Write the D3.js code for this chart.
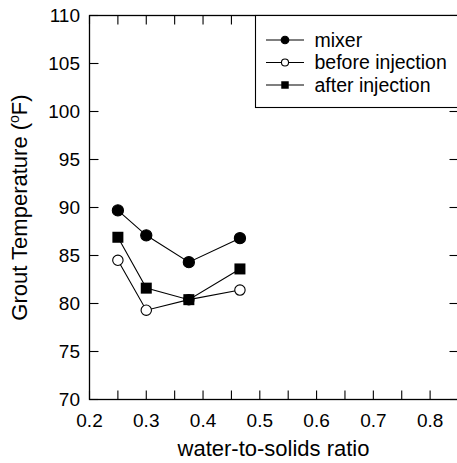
<!DOCTYPE html>
<html><head><meta charset="utf-8">
<script src="https://cdn.jsdelivr.net/npm/d3@7"></script>
<style>body{margin:0;background:#fff;} text{font-family:"Liberation Sans",Arial,sans-serif;fill:#000;}</style>
</head><body>
<svg id="c" width="457" height="463"></svg>
<script>
const ratios = [0.25, 0.30, 0.375, 0.465];
const mixer = [89.7, 87.1, 84.3, 86.8];
const beforeInjection = [84.5, 79.3, 80.4, 81.4];
const afterInjection = [86.9, 81.6, 80.4, 83.6];
const seriesNames = ["mixer", "before injection", "after injection"];
const xTicks = [0.2,0.25,0.3,0.35,0.4,0.45,0.5,0.55,0.6,0.65,0.7,0.75,0.8,0.85];
const xLabels = [0.2,0.3,0.4,0.5,0.6,0.7,0.8];
const yTicks = [70,75,80,85,90,95,100,105,110];

const svg = d3.select("#c");
const L = 89.5, R = 458.5, T = 15.5, B = 399.5;
const x = d3.scaleLinear().domain([0.2, 0.85]).range([L, R]);
const y = d3.scaleLinear().domain([70, 110]).range([B, T]);

// frame
svg.append("rect").attr("x", L).attr("y", T).attr("width", R - L).attr("height", B - T)
  .attr("fill", "none").attr("stroke", "#000").attr("stroke-width", 1.3);

// axes (ticks inward)
const tl = 9;
const ax = svg.append("g").attr("stroke", "#000").attr("stroke-width", 1.1);
xTicks.forEach(v => {
  ax.append("line").attr("x1", x(v)).attr("x2", x(v)).attr("y1", B).attr("y2", B - tl);
  ax.append("line").attr("x1", x(v)).attr("x2", x(v)).attr("y1", T).attr("y2", T + tl);
});
yTicks.forEach(v => {
  ax.append("line").attr("x1", L).attr("x2", L + tl).attr("y1", y(v)).attr("y2", y(v));
  ax.append("line").attr("x1", R).attr("x2", R - tl).attr("y1", y(v)).attr("y2", y(v));
});
svg.append("g").selectAll("text").data(xLabels).join("text")
  .attr("x", d => x(d)).attr("y", B + 27.5).attr("text-anchor", "middle")
  .attr("font-size", 19).text(d => d3.format(".1f")(d));
svg.append("g").selectAll("text").data(yTicks).join("text")
  .attr("x", L - 9.5).attr("y", d => y(d) + 6.7).attr("text-anchor", "end")
  .attr("font-size", 19).text(d => d);

svg.append("text").attr("x", 273.5).attr("y", 456).attr("text-anchor", "middle")
  .attr("font-size", 22).text("water-to-solids ratio");
const yl = svg.append("text").attr("transform", `translate(27,207.5) rotate(-90)`)
  .attr("text-anchor", "middle").attr("font-size", 22);
yl.append("tspan").text("Grout Temperature (");
yl.append("tspan").attr("font-size", 14).attr("dy", -8).text("o");
yl.append("tspan").attr("dy", 8).text("F)");

// series
const data = [
  {name: seriesNames[0], vals: mixer, type: "fcircle"},
  {name: seriesNames[1], vals: beforeInjection, type: "ocircle"},
  {name: seriesNames[2], vals: afterInjection, type: "square"}
];
const line = d3.line().x(d => x(d[0])).y(d => y(d[1]));
function marker(g, type, cx, cy, s) {
  if (type === "square") {
    g.append("rect").attr("x", cx - 5.5 * s).attr("y", cy - 5.5 * s).attr("width", 11 * s).attr("height", 11 * s).attr("fill", "#000");
  } else {
    g.append("circle").attr("cx", cx).attr("cy", cy).attr("r", (type === "fcircle" ? 5.6 : 5.2) * s)
      .attr("fill", type === "fcircle" ? "#000" : "#fff").attr("stroke", "#000").attr("stroke-width", 1.1);
  }
}
data.forEach(s => {
  const pts = ratios.map((r, i) => [r, s.vals[i]]);
  svg.append("path").attr("d", line(pts)).attr("fill", "none").attr("stroke", "#000").attr("stroke-width", 1.1);
  const g = svg.append("g");
  pts.forEach(p => marker(g, s.type, x(p[0]), y(p[1]), 1));
});

// legend
svg.append("rect").attr("x", 255.5).attr("y", T).attr("width", 220).attr("height", 107.5 - T)
  .attr("fill", "#fff").attr("stroke", "#000").attr("stroke-width", 1.1);
data.forEach((s, i) => {
  const ly = 40 + i * 22.5;
  const g = svg.append("g");
  g.append("line").attr("x1", 266).attr("x2", 304).attr("y1", ly).attr("y2", ly).attr("stroke", "#000").attr("stroke-width", 1.1);
  marker(g, s.type, 285, ly, 0.68);
  g.append("text").attr("x", 314.5).attr("y", ly + 6.7).attr("font-size", 19.5).text(s.name);
});
</script>
</body></html>
